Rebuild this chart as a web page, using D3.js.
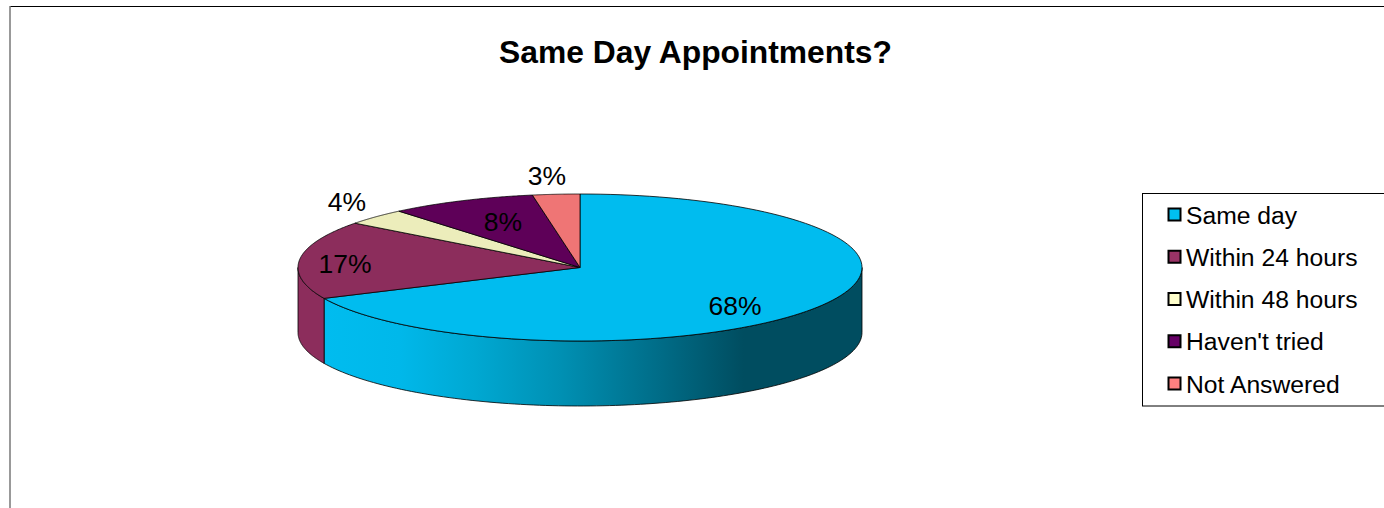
<!DOCTYPE html>
<html><head><meta charset="utf-8">
<script src="https://cdn.jsdelivr.net/npm/d3@7"></script>
<style>html,body{margin:0;padding:0;background:#fff;overflow:hidden}svg{display:block}text{font-family:"Liberation Sans",Arial,sans-serif;fill:#000}</style>
</head><body><svg id="c" width="1384" height="508"></svg>
<script>
const title = "Same Day Appointments?";
const categories = ["Same day","Within 24 hours","Within 48 hours","Haven't tried","Not Answered"];
const values = [68.1,17.2,3.6,8.4,2.7];
const legendColors = ["#00BFF0","#993366","#FFFFCC","#660066","#FF8080"];
const topColors = ["#00BCEF","#8C2D5C","#ECEDBB","#5E0058","#EF7575"];
const labelPos = [[735,315],[345,273],[347,211],[503,231],[547,185]];
const cx=580, cy=267.5, rx=282, ry=73.5, depth=65;

const svg=d3.select("#c");
const defs=svg.append("defs");
const grad=defs.append("linearGradient").attr("id","wall").attr("gradientUnits","userSpaceOnUse")
  .attr("x1",324).attr("x2",862).attr("y1",0).attr("y2",0);
[[0,"#00BCEF"],[0.14,"#00B8EA"],[0.28,"#00A8D2"],[0.44,"#0090B3"],[0.625,"#006C87"],[0.78,"#004D60"],[1,"#004D60"]]
  .forEach(s=>grad.append("stop").attr("offset",s[0]).attr("stop-color",s[1]));

// frame
svg.append("line").attr("x1",10).attr("x2",1384).attr("y1",6.5).attr("y2",6.5).attr("stroke","#000");
svg.append("line").attr("x1",10).attr("x2",10).attr("y1",6).attr("y2",508).attr("stroke","#777").attr("stroke-width",1.5);

svg.append("text").attr("x",695.5).attr("y",63).attr("text-anchor","middle")
  .attr("font-weight","bold").attr("font-size",31.8).text(title);

const pie=d3.pie().sort(null).startAngle(0).endAngle(2*Math.PI);
const arcs=pie(values);
const px=t=>cx+rx*Math.sin(t), py=t=>cy-ry*Math.cos(t);
const samples=(a,b)=>d3.range(0,121).map(i=>a+(b-a)*i/120);
const line=d3.line();

// side walls: only the front half (pi/2..3pi/2)
arcs.forEach((d,i)=>{
  const a=Math.max(d.startAngle,Math.PI/2), b=Math.min(d.endAngle,3*Math.PI/2);
  if(b<=a) return;
  const ts=samples(a,b);
  const pts=ts.map(t=>[px(t),py(t)]).concat(ts.slice().reverse().map(t=>[px(t),py(t)+depth]));
  svg.append("path").attr("d",line(pts)+"Z")
    .attr("fill",i===0?"url(#wall)":topColors[i]).attr("stroke","#000").attr("stroke-width",0.8).attr("stroke-linejoin","round");
});
// top faces
arcs.forEach((d,i)=>{
  const pts=[[cx,cy]].concat(samples(d.startAngle,d.endAngle).map(t=>[px(t),py(t)]));
  svg.append("path").attr("d",line(pts)+"Z")
    .attr("fill",topColors[i]).attr("stroke","#000").attr("stroke-width",0.8).attr("stroke-linejoin","round");
});
// labels
const total=d3.sum(values);
values.forEach((v,i)=>{
  svg.append("text").attr("x",labelPos[i][0]).attr("y",labelPos[i][1]).attr("text-anchor","middle")
    .attr("font-size",26.5).text(d3.format(".0%")(v/total));
});
// legend
svg.append("rect").attr("x",1142.5).attr("y",193.5).attr("width",260).attr("height",212.5).attr("fill","#fff").attr("stroke","#000");
const ly=d3.scalePoint().domain(categories).range([215,384]);
categories.forEach((c,i)=>{
  svg.append("rect").attr("x",1168.5).attr("y",ly(c)-6.5).attr("width",12).attr("height",12)
    .attr("fill",legendColors[i]).attr("stroke","#000").attr("stroke-width",2);
  svg.append("text").attr("x",1186).attr("y",ly(c)+8.5).attr("font-size",24.7).text(c);
});
</script></body></html>
